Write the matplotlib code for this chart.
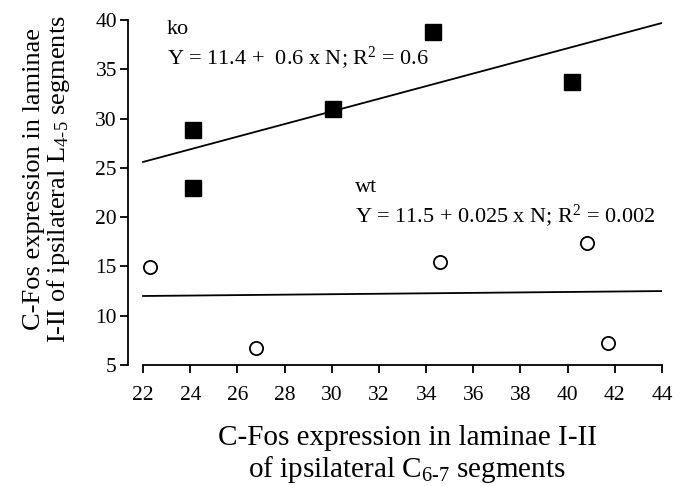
import numpy as np
import matplotlib
matplotlib.use("Agg")
import matplotlib.pyplot as plt

plt.rcParams['font.family'] = ['Liberation Serif', 'DejaVu Serif']
plt.rcParams['mathtext.fontset'] = 'custom'
plt.rcParams['mathtext.rm'] = 'Liberation Serif'
plt.rcParams['mathtext.it'] = 'Liberation Serif:italic'

# ko group (filled squares)
ko_x = [24.1, 24.1, 30.05, 34.3, 40.2]
ko_y = [28.8, 23.0, 31.0, 38.8, 33.7]
ko_fit_x = [22.0, 44.0]
ko_fit_y = [25.6, 39.7]

# wt group (open circles)
wt_x = [22.3, 26.8, 34.6, 40.8, 41.7]
wt_y = [14.9, 6.7, 15.4, 17.4, 7.2]
wt_fit_x = [22.0, 44.0]
wt_fit_y = [12.0, 12.5]

x_ticks = list(range(22, 45, 2))
y_ticks = list(range(5, 41, 5))

fig = plt.figure(figsize=(6.8, 4.86), dpi=100)
ax = fig.add_axes([128 / 680, 1 - 365 / 486, 534 / 680, 345 / 486])

ax.plot(ko_fit_x, ko_fit_y, color='black', lw=1.3)
ax.plot(wt_fit_x, wt_fit_y, color='black', lw=1.3)
ax.plot(ko_x, ko_y, ls='none', marker='s', ms=11, color='black', clip_on=False)
ax.plot(wt_x, wt_y, ls='none', marker='o', ms=9.5, mfc='white', mec='black',
        mew=1.3, clip_on=False)

fs_note = 16
ax.text(23.0, 39.0, 'ko', fontsize=fs_note, va='center')
ax.text(23.0, 36.2, 'Y = 11.4 +  0.6 x N; R$^{2}$ = 0.6', fontsize=fs_note, va='center')
ax.text(31.0, 23.0, 'wt', fontsize=fs_note, va='center')
ax.text(31.0, 20.2, 'Y = 11.5 + 0.025 x N; R$^{2}$ = 0.002', fontsize=fs_note, va='center')

ax.set_xlim(21.36, 44)
ax.set_ylim(5, 40)
ax.set_xticks(x_ticks)
ax.set_yticks(y_ticks)
ax.spines['top'].set_visible(False)
ax.spines['right'].set_visible(False)
ax.spines['bottom'].set_bounds(22, 44)
ax.spines['left'].set_bounds(5, 40)
for s in ['bottom', 'left']:
    ax.spines[s].set_linewidth(1.3)
ax.tick_params(direction='out', length=6, width=1.3, labelsize=15.5)
ax.tick_params(axis='x', pad=9)
ax.tick_params(axis='y', pad=2)

ax.set_xlabel('C-Fos expression in laminae I-II\nof ipsilateral C$_{6\\text{-}7}$ segments',
              fontsize=21, linespacing=1.1)
ax.set_ylabel('C-Fos expression in laminae\nI-II of ipsilateral L$_{4\\text{-}5}$ segments',
              fontsize=19, linespacing=1.0)
ax.xaxis.set_label_coords(0.523, -0.175)
ax.yaxis.set_label_coords(-0.104, 0.54)

fig.savefig('out.png', dpi=100)
